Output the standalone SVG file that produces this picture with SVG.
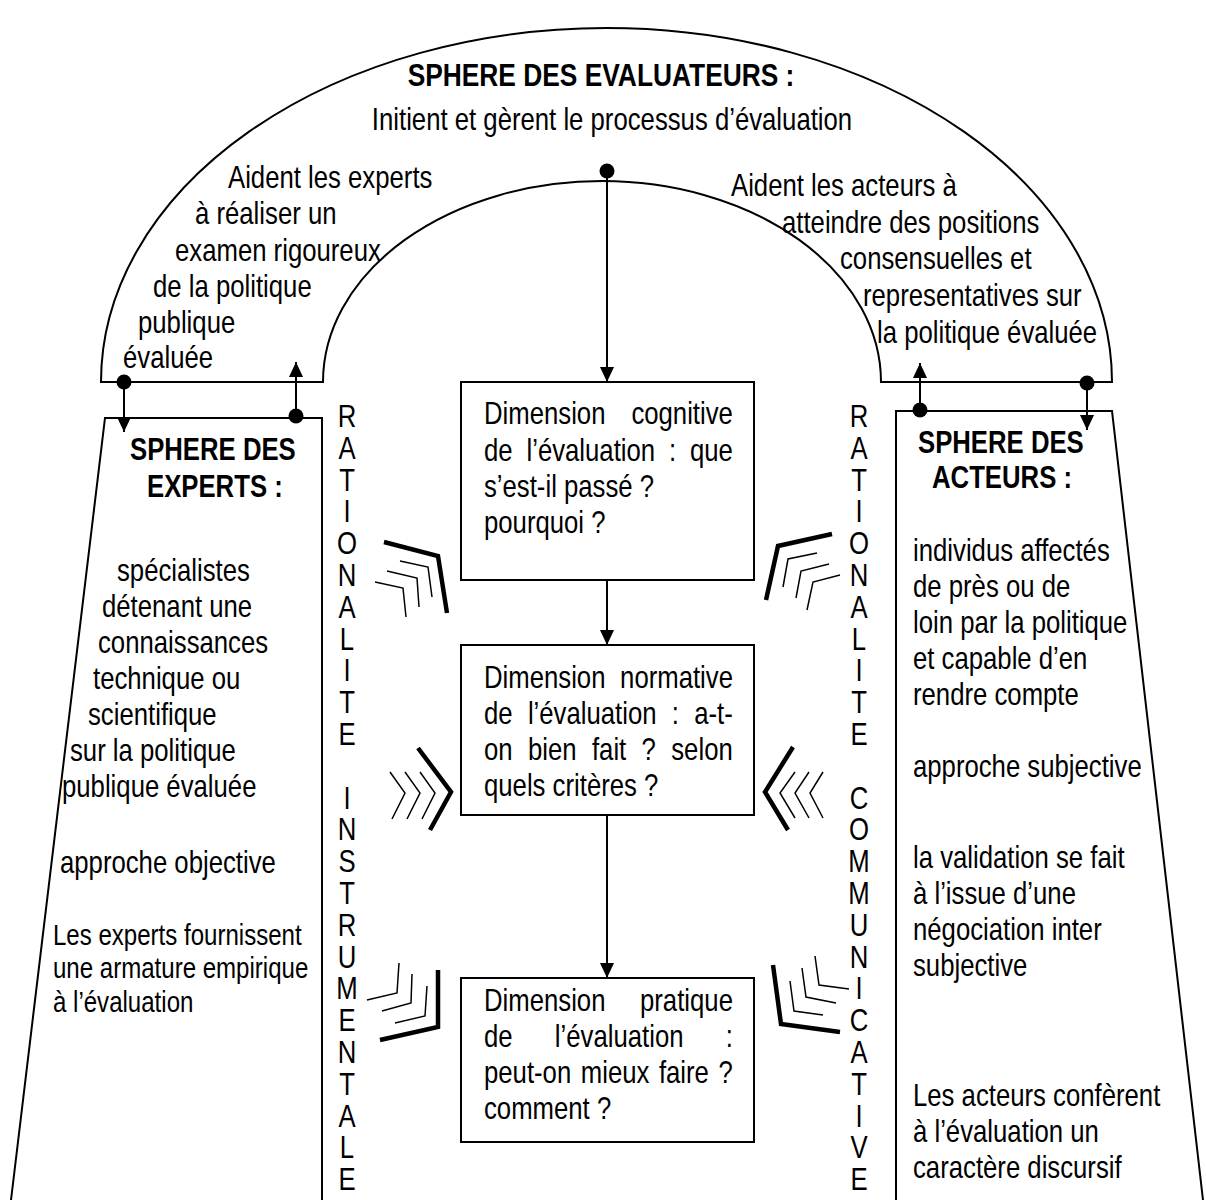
<svg xmlns="http://www.w3.org/2000/svg" width="1206" height="1200" viewBox="0 0 1206 1200">
<style>
.t{font-family:"Liberation Sans",Arial,sans-serif;font-size:31px;fill:#000}
.b{font-weight:bold}
.s{font-size:29px}
.m{text-anchor:middle}
.ln{fill:none;stroke:#000;stroke-width:2}
.th{fill:none;stroke:#000;stroke-width:1.5}
.tk{fill:none;stroke:#000;stroke-width:4.5}
.dot{fill:#000}
</style>
<defs>
<marker id="ah" markerUnits="userSpaceOnUse" viewBox="0 0 15 14" refX="15" refY="7" markerWidth="15" markerHeight="14" orient="auto"><path d="M0,0 L15,7 L0,14 Z" fill="#000"/></marker>
</defs>
<rect width="1206" height="1200" fill="#fff"/>

<g id="evaluateurs">
<path class="ln" d="M101,382 A505.5,354 0 0 1 1112,382 L881,382 A279,201 0 0 0 323,382 Z"/>
<text class="t b m" transform="matrix(.85 0 0 1 601 86)">SPHERE DES EVALUATEURS :</text>
<text class="t m" transform="matrix(.83 0 0 1 612 130)">Initient et gèrent le processus d’évaluation</text>
<text class="t" transform="matrix(.83 0 0 1 228 188)">Aident les experts</text>
<text class="t" transform="matrix(.83 0 0 1 195 224)">à réaliser un</text>
<text class="t" transform="matrix(.83 0 0 1 175 261)">examen rigoureux</text>
<text class="t" transform="matrix(.83 0 0 1 153 297)">de la politique</text>
<text class="t" transform="matrix(.83 0 0 1 138 333)">publique</text>
<text class="t" transform="matrix(.83 0 0 1 123 368)">évaluée</text>
<text class="t" transform="matrix(.83 0 0 1 731 196)">Aident les acteurs à</text>
<text class="t" transform="matrix(.83 0 0 1 782 233)">atteindre des positions</text>
<text class="t" transform="matrix(.83 0 0 1 840 269)">consensuelles et</text>
<text class="t" transform="matrix(.83 0 0 1 863 306)">representatives sur</text>
<text class="t" transform="matrix(.83 0 0 1 877 343)">la politique évaluée</text>
</g>

<g id="experts">
<path class="ln" d="M11,1200 L105,418 L322,418 L322,1200"/>
<text class="t b" transform="matrix(.83 0 0 1 130 460)">SPHERE DES</text>
<text class="t b" transform="matrix(.83 0 0 1 147 497)">EXPERTS :</text>
<text class="t" transform="matrix(.83 0 0 1 117 581)">spécialistes</text>
<text class="t" transform="matrix(.83 0 0 1 102 617)">détenant une</text>
<text class="t" transform="matrix(.83 0 0 1 98 653)">connaissances</text>
<text class="t" transform="matrix(.83 0 0 1 93 689)">technique ou</text>
<text class="t" transform="matrix(.83 0 0 1 88 725)">scientifique</text>
<text class="t" transform="matrix(.83 0 0 1 70 761)">sur la politique</text>
<text class="t" transform="matrix(.83 0 0 1 62 797)">publique évaluée</text>
<text class="t" transform="matrix(.83 0 0 1 60 873)">approche objective</text>
<text class="t s" transform="matrix(.83 0 0 1 53 945)">Les experts fournissent</text>
<text class="t s" transform="matrix(.83 0 0 1 53 978)">une armature empirique</text>
<text class="t s" transform="matrix(.83 0 0 1 53 1012)">à l’évaluation</text>
</g>

<g id="acteurs">
<path class="ln" d="M896,1200 L896,411 L1112,411 L1203,1200"/>
<text class="t b" transform="matrix(.83 0 0 1 918 453)">SPHERE DES</text>
<text class="t b" transform="matrix(.83 0 0 1 932 488)">ACTEURS :</text>
<text class="t" transform="matrix(.83 0 0 1 913 561)">individus affectés</text>
<text class="t" transform="matrix(.83 0 0 1 913 597)">de près ou de</text>
<text class="t" transform="matrix(.83 0 0 1 913 633)">loin par la politique</text>
<text class="t" transform="matrix(.83 0 0 1 913 669)">et capable d’en</text>
<text class="t" transform="matrix(.83 0 0 1 913 705)">rendre compte</text>
<text class="t" transform="matrix(.83 0 0 1 913 777)">approche subjective</text>
<text class="t" transform="matrix(.83 0 0 1 913 868)">la validation se fait</text>
<text class="t" transform="matrix(.83 0 0 1 913 904)">à l’issue d’une</text>
<text class="t" transform="matrix(.83 0 0 1 913 940)">négociation inter</text>
<text class="t" transform="matrix(.83 0 0 1 913 976)">subjective</text>
<text class="t" transform="matrix(.83 0 0 1 913 1106)">Les acteurs confèrent</text>
<text class="t" transform="matrix(.83 0 0 1 913 1142)">à l’évaluation un</text>
<text class="t" transform="matrix(.83 0 0 1 913 1178)">caractère discursif</text>
</g>

<g id="cognitive">
<rect class="ln" x="461" y="382" width="293" height="198"/>
<text class="t" transform="matrix(.83 0 0 1 484 424)" style="word-spacing:22.6px">Dimension cognitive</text>
<text class="t" transform="matrix(.83 0 0 1 484 461)" style="word-spacing:8.1px">de l’évaluation : que</text>
<text class="t" transform="matrix(.83 0 0 1 484 497)">s’est-il passé ?</text>
<text class="t" transform="matrix(.83 0 0 1 484 533)">pourquoi ?</text>
</g>

<g id="normative">
<rect class="ln" x="461" y="645" width="293" height="170"/>
<text class="t" transform="matrix(.83 0 0 1 484 688)" style="word-spacing:9px">Dimension normative</text>
<text class="t" transform="matrix(.83 0 0 1 484 724)" style="word-spacing:9.8px">de l’évaluation : a-t-</text>
<text class="t" transform="matrix(.83 0 0 1 484 760)" style="word-spacing:9.9px">on bien fait ? selon</text>
<text class="t" transform="matrix(.83 0 0 1 484 796)">quels critères ?</text>
</g>

<g id="pratique">
<rect class="ln" x="461" y="978" width="293" height="164"/>
<text class="t" transform="matrix(.83 0 0 1 484 1011)" style="word-spacing:33px">Dimension pratique</text>
<text class="t" transform="matrix(.83 0 0 1 484 1047)" style="word-spacing:42.3px">de l’évaluation :</text>
<text class="t" transform="matrix(.83 0 0 1 484 1083)" style="word-spacing:2.9px">peut-on mieux faire ?</text>
<text class="t" transform="matrix(.83 0 0 1 484 1119)">comment ?</text>
</g>

<g id="rationalite-instrumentale">
<text class="t m" transform="matrix(.83 0 0 1 347 427)"><tspan x="0" y="0">R</tspan><tspan x="0" dy="31.8">A</tspan><tspan x="0" dy="31.8">T</tspan><tspan x="0" dy="31.8">I</tspan><tspan x="0" dy="31.8">O</tspan><tspan x="0" dy="31.8">N</tspan><tspan x="0" dy="31.8">A</tspan><tspan x="0" dy="31.8">L</tspan><tspan x="0" dy="31.8">I</tspan><tspan x="0" dy="31.8">T</tspan><tspan x="0" dy="31.8">E</tspan><tspan x="0" dy="63.6">I</tspan><tspan x="0" dy="31.8">N</tspan><tspan x="0" dy="31.8">S</tspan><tspan x="0" dy="31.8">T</tspan><tspan x="0" dy="31.8">R</tspan><tspan x="0" dy="31.8">U</tspan><tspan x="0" dy="31.8">M</tspan><tspan x="0" dy="31.8">E</tspan><tspan x="0" dy="31.8">N</tspan><tspan x="0" dy="31.8">T</tspan><tspan x="0" dy="31.8">A</tspan><tspan x="0" dy="31.8">L</tspan><tspan x="0" dy="31.8">E</tspan></text>
</g>

<g id="rationalite-communicative">
<text class="t m" transform="matrix(.83 0 0 1 859 427)"><tspan x="0" y="0">R</tspan><tspan x="0" dy="31.8">A</tspan><tspan x="0" dy="31.8">T</tspan><tspan x="0" dy="31.8">I</tspan><tspan x="0" dy="31.8">O</tspan><tspan x="0" dy="31.8">N</tspan><tspan x="0" dy="31.8">A</tspan><tspan x="0" dy="31.8">L</tspan><tspan x="0" dy="31.8">I</tspan><tspan x="0" dy="31.8">T</tspan><tspan x="0" dy="31.8">E</tspan><tspan x="0" dy="63.6">C</tspan><tspan x="0" dy="31.8">O</tspan><tspan x="0" dy="31.8">M</tspan><tspan x="0" dy="31.8">M</tspan><tspan x="0" dy="31.8">U</tspan><tspan x="0" dy="31.8">N</tspan><tspan x="0" dy="31.8">I</tspan><tspan x="0" dy="31.8">C</tspan><tspan x="0" dy="31.8">A</tspan><tspan x="0" dy="31.8">T</tspan><tspan x="0" dy="31.8">I</tspan><tspan x="0" dy="31.8">V</tspan><tspan x="0" dy="31.8">E</tspan></text>
</g>

<g id="chevrons">
<polyline class="tk" points="384,542 438,556 447,613"/>
<polyline class="th" points="400,561 428,567 432,597"/>
<polyline class="th" points="387,571 417,578 419,607"/>
<polyline class="th" points="375,582 403,588 406,617"/>
<polyline class="tk" points="418,748 451,792 430,830"/>
<polyline class="th" points="390,772 405,793 392,819"/>
<polyline class="th" points="405,772 420,793 407,819"/>
<polyline class="th" points="420,772 435,793 422,819"/>
<polyline class="tk" points="380,1040 438,1027 438,970"/>
<polyline class="th" points="367,1000 397,993 399,963"/>
<polyline class="th" points="382,1011 411,1003 412,974"/>
<polyline class="th" points="395,1023 425,1016 427,986"/>
<polyline class="tk" points="832,534 778,546 766,600"/>
<polyline class="th" points="817,553 788,559 783,587"/>
<polyline class="th" points="829,564 801,571 796,598"/>
<polyline class="th" points="840,575 813,582 807,610"/>
<polyline class="tk" points="793,747 765,792 788,830"/>
<polyline class="th" points="795,772 780,793 795,818"/>
<polyline class="th" points="809,772 795,793 809,818"/>
<polyline class="th" points="823,772 810,793 823,818"/>
<polyline class="tk" points="773,965 781,1024 840,1032"/>
<polyline class="th" points="790,981 794,1011 823,1015"/>
<polyline class="th" points="802,968 806,997 836,1003"/>
<polyline class="th" points="815,956 819,985 849,989"/>
</g>

<g id="connectors">
<line class="ln" x1="607" y1="171" x2="607" y2="382" marker-end="url(#ah)"/>
<line class="ln" x1="607" y1="580" x2="607" y2="645" marker-end="url(#ah)"/>
<line class="ln" x1="607" y1="815" x2="607" y2="978" marker-end="url(#ah)"/>
<line class="ln" x1="124" y1="382" x2="124" y2="432" marker-end="url(#ah)"/>
<line class="ln" x1="296" y1="416" x2="296" y2="362" marker-end="url(#ah)"/>
<line class="ln" x1="920" y1="410" x2="920" y2="363" marker-end="url(#ah)"/>
<line class="ln" x1="1087" y1="383" x2="1087" y2="430" marker-end="url(#ah)"/>
<circle class="dot" cx="607" cy="171" r="7.5"/>
<circle class="dot" cx="124" cy="382" r="7.5"/>
<circle class="dot" cx="296" cy="416" r="7.5"/>
<circle class="dot" cx="920" cy="410" r="7.5"/>
<circle class="dot" cx="1087" cy="383" r="7.5"/>
</g>
</svg>
